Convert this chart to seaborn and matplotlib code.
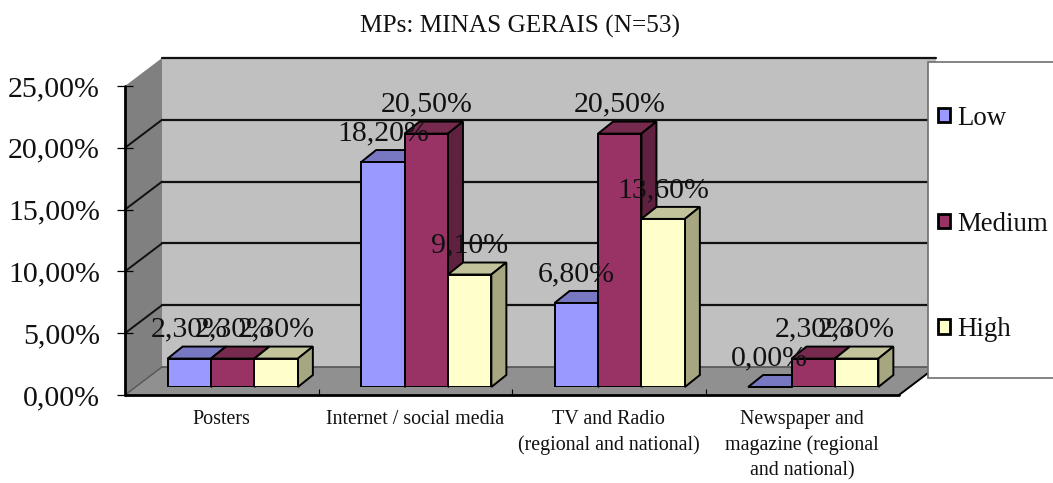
import matplotlib
matplotlib.use('Agg')
import matplotlib.pyplot as plt
import pandas as pd
import seaborn as sns
from matplotlib.patches import Patch, Polygon, Rectangle
from matplotlib.transforms import Affine2D

# chart data
categories = ['Posters', 'Internet / social media',
              'TV and Radio\n(regional and national)',
              'Newspaper and\nmagazine (regional\nand national)']
levels = ['Low', 'Medium', 'High']
low = [2.3, 18.2, 6.8, 0.0]
medium = [2.3, 20.5, 20.5, 2.3]
high = [2.3, 9.1, 13.6, 2.3]
y_ticks = [0, 5, 10, 15, 20, 25]

front_colors = ['#9999FF', '#993366', '#FFFFCC']
top_colors = ['#7878C2', '#752A4E', '#C2C29B']
side_colors = ['#6A6AA8', '#60203F', '#A6A680']

# fake 3d, offsets in pixels from the plane of the bars
FRONT = (-11, -8)
BACK = (26, 20)
BAR_DEPTH = (15, 12)
W, H = 1053, 483

sns.set_theme(style='white')
plt.rcParams['font.family'] = ['Liberation Serif', 'DejaVu Serif']

df = pd.DataFrame({
    'category': categories * 3,
    'level': [l for l in levels for _ in categories],
    'value': low + medium + high,
})

fig = plt.figure(figsize=(W / 100, H / 100), dpi=100)
ax = fig.add_axes([136 / W, (H - 387) / H, 774 / W, 309 / H])
ax.patch.set_visible(False)

sns.barplot(data=df, x='category', y='value', hue='level', order=categories, hue_order=levels,
            palette=front_colors, width=0.673, gap=0, saturation=1, errorbar=None,
            linewidth=1.4, edgecolor='black', legend=False, ax=ax)
ax.set_xlim(-0.5, 3.5)
ax.set_ylim(0, 25)
ax.set_xlabel('')
ax.set_ylabel('')
sns.despine(ax=ax, left=True, bottom=True)


def shifted(offset):
    return ax.transData + Affine2D().translate(*offset)


def to_px(x, y, offset):
    return shifted(offset).transform((x, y))


def face(points, color, zorder, edge='none', lw=0):
    # points are already in display pixels
    ax.add_patch(Polygon(points, closed=True, facecolor=color, edgecolor=edge, linewidth=lw,
                         transform=None, clip_on=False, zorder=zorder))


x0, x1 = ax.get_xlim()
y_top = ax.get_ylim()[1]

# walls and floor
face([to_px(x0, 0, BACK), to_px(x1, 0, BACK), to_px(x1, y_top, BACK), to_px(x0, y_top, BACK)], '#C0C0C0', 0.1)
face([to_px(x0, 0, FRONT), to_px(x0, 0, BACK), to_px(x0, y_top, BACK), to_px(x0, y_top, FRONT)], '#808080', 0.2)
face([to_px(x0, 0, FRONT), to_px(x1, 0, FRONT), to_px(x1, 0, BACK), to_px(x0, 0, BACK)], '#909090', 0.3)

# gridlines on back wall and going round the side wall
for v in y_ticks[1:]:
    ax.plot([x0, x1], [v, v], color='#111111', lw=1.6, transform=shifted(BACK), clip_on=False, zorder=0.4)
    if v < y_top:
        ax.plot(*zip(to_px(x0, v, FRONT), to_px(x0, v, BACK)), color='#111111', lw=1.4,
                transform=None, clip_on=False, zorder=0.4)
ax.plot([x0, x1], [0, 0], color='#555555', lw=1.2, transform=shifted(BACK), clip_on=False, zorder=0.4)
ax.plot(*zip(to_px(x0, 0, FRONT), to_px(x0, 0, BACK)), color='#555555', lw=1, transform=None, clip_on=False, zorder=0.4)

# front axis lines and ticks
ax.plot([x0, x0], [0, y_top], color='black', lw=2.0, transform=shifted(FRONT), clip_on=False, zorder=0.5)
ax.plot([x0, x1], [0, 0], color='black', lw=2.0, transform=shifted(FRONT), clip_on=False, zorder=0.5)
ax.plot(*zip(to_px(x1, 0, FRONT), to_px(x1, 0, BACK)), color='black', lw=1.4, transform=None, clip_on=False, zorder=0.5)
ax.plot([x0] * len(y_ticks), y_ticks, ls='none', marker='_', ms=11.5, mew=0.9, color='black',
        transform=shifted(FRONT), clip_on=False, zorder=0.5)
ax.plot([c + 0.5 for c in range(3)], [0, 0, 0], ls='none', marker='|', ms=4.5, mew=0.8, color='black',
        transform=shifted((FRONT[0], FRONT[1] + 3)), clip_on=False, zorder=0.5)

# top and side faces for each bar, left to right so neighbours overlap properly
dx, dy = BAR_DEPTH
for i, container in enumerate(ax.containers):
    for bar in container:
        bar.set_zorder(2 + 2 * bar.get_x() + i * 0.1 + 0.05)
        left = ax.transData.transform((bar.get_x(), 0))[0]
        right = ax.transData.transform((bar.get_x() + bar.get_width(), 0))[0]
        base = ax.transData.transform((0, 0))[1]
        top = ax.transData.transform((0, bar.get_height()))[1]
        z = 2 + 2 * bar.get_x() + i * 0.1
        face([(left, top), (right, top), (right + dx, top + dy), (left + dx, top + dy)],
             top_colors[i], z, 'black', 1.4)
        face([(right, base), (right + dx, base + dy), (right + dx, top + dy), (right, top)],
             side_colors[i], z, 'black', 1.4)
    labels = [f'{v:.2f}%'.replace('.', ',') for v in container.datavalues]
    ax.bar_label(container, labels=labels, padding=11.5, fontsize=21.5, color='#111111', zorder=40)

# axis labels, moved to the front plane
ax.set_yticks(y_ticks)
ax.set_yticklabels([f'{v:.2f}%'.replace('.', ',') for v in y_ticks])
ax.tick_params(axis='y', length=0, pad=18, labelsize=21.5, labelcolor='#111111')
ax.tick_params(axis='x', length=0, pad=16.5, labelsize=14.4, labelcolor='#111111')
ax.set_xticks(range(len(categories)))
ax.set_xticklabels(categories, linespacing=1.43)
for lab in ax.get_yticklabels():
    lab.set_transform(lab.get_transform() + Affine2D().translate(*FRONT))
for lab in ax.get_xticklabels():
    lab.set_transform(lab.get_transform() + Affine2D().translate(FRONT[0], 0))

fig.text(520 / W, 1 - 26 / H, 'MPs: MINAS GERAIS (N=53)', ha='center', va='center', fontsize=18.2, color='#111111')

# legend box runs off the right edge
ax.add_patch(Rectangle((928 / W, 1 - 378 / H), 140 / W, 316 / H, transform=fig.transFigure, facecolor='white',
                       edgecolor='#707070', linewidth=1.2, clip_on=False, zorder=60))
handles = [Patch(facecolor=c, edgecolor='black', linewidth=2, label=l) for c, l in zip(front_colors, levels)]
leg = ax.legend(handles=handles, loc='center left', bbox_to_anchor=(938 / W, 1 - 224 / H), bbox_transform=fig.transFigure,
                frameon=False, fontsize=19.4, labelspacing=3.0, handlelength=0.45, handleheight=0.45,
                handletextpad=0.28, borderpad=0, borderaxespad=0, labelcolor='#111111')
leg.set_zorder(70)

fig.savefig('out.png', dpi=100)
